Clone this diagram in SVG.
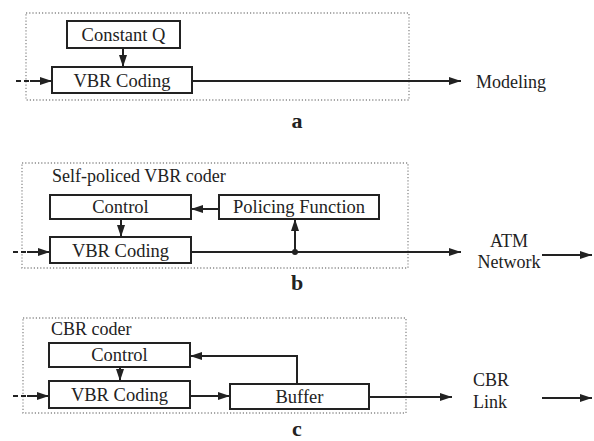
<svg xmlns="http://www.w3.org/2000/svg" width="594" height="441" viewBox="0 0 594 441">
<style>
.box{fill:#fff;stroke:#222;stroke-width:2}
.grp{fill:none;stroke:#8a8a8a;stroke-width:1.3;stroke-dasharray:1.2 2}
.ln{fill:none;stroke:#222;stroke-width:2}
.dash{fill:none;stroke:#222;stroke-width:2;stroke-dasharray:5 3}
text{font-family:"Liberation Serif","Times New Roman",serif;fill:#222}
.t{font-size:18.5px;text-anchor:middle}
.o{font-size:18px}
.lab{font-size:22px;font-weight:bold;text-anchor:middle}
</style>
<defs>
<marker id="ah" viewBox="0 0 12 8" refX="12" refY="4" markerWidth="12" markerHeight="8" markerUnits="userSpaceOnUse" orient="auto">
<path d="M0,0 L12,4 L0,8 Z" fill="#222"/>
</marker>
</defs>
<rect class="grp" x="26" y="13" width="383" height="87"/>
<rect class="grp" x="22" y="163" width="386" height="105"/>
<rect class="grp" x="23" y="318" width="383" height="95"/>
<g id="connectors">
<line class="dash" x1="16" y1="81" x2="30" y2="81"/>
<line class="ln" x1="30" y1="81" x2="52" y2="81" marker-end="url(#ah)"/>
<line class="ln" x1="123" y1="48" x2="123" y2="67" marker-end="url(#ah)"/>
<line class="ln" x1="192" y1="81" x2="461" y2="81" marker-end="url(#ah)"/>
<line class="dash" x1="13" y1="252" x2="27" y2="252"/>
<line class="ln" x1="27" y1="252" x2="50" y2="252" marker-end="url(#ah)"/>
<line class="ln" x1="121" y1="219" x2="121" y2="237" marker-end="url(#ah)"/>
<line class="ln" x1="219" y1="209" x2="191" y2="209" marker-end="url(#ah)"/>
<line class="ln" x1="191" y1="252" x2="461" y2="252" marker-end="url(#ah)"/>
<line class="ln" x1="295" y1="252" x2="295" y2="219" marker-end="url(#ah)"/>
<circle cx="295" cy="252" r="3" fill="#222"/>
<line class="ln" x1="542" y1="255" x2="592" y2="255" marker-end="url(#ah)"/>
<line class="dash" x1="13" y1="396" x2="27" y2="396"/>
<line class="ln" x1="27" y1="396" x2="49" y2="396" marker-end="url(#ah)"/>
<line class="ln" x1="120" y1="367" x2="120" y2="381" marker-end="url(#ah)"/>
<line class="ln" x1="190" y1="396" x2="230" y2="396" marker-end="url(#ah)"/>
<polyline class="ln" points="297,384 297,356 190,356" marker-end="url(#ah)"/>
<line class="ln" x1="369" y1="397" x2="452" y2="397" marker-end="url(#ah)"/>
<line class="ln" x1="542" y1="398" x2="592" y2="398" marker-end="url(#ah)"/>
</g>
<g id="constq"><rect class="box" x="67" y="21" width="113" height="27"/><text class="t" x="123.5" y="41">Constant Q</text></g>
<g id="vbr-a"><rect class="box" x="52" y="67" width="140" height="26"/><text class="t" x="122" y="87">VBR Coding</text></g>
<g id="modeling"><text class="o" x="476" y="88">Modeling</text></g>
<g id="label-a"><text class="lab" x="297" y="128">a</text></g>
<g id="title-b"><text class="o" x="52" y="182">Self-policed VBR coder</text></g>
<g id="control-b"><rect class="box" x="50" y="195" width="141" height="24"/><text class="t" x="120.5" y="213">Control</text></g>
<g id="policing"><rect class="box" x="219" y="195" width="160" height="24"/><text class="t" x="299" y="213">Policing Function</text></g>
<g id="vbr-b"><rect class="box" x="50" y="237" width="141" height="26"/><text class="t" x="120.5" y="257">VBR Coding</text></g>
<g id="atm"><text class="o" x="509" y="247" text-anchor="middle">ATM</text><text class="o" x="509" y="268" text-anchor="middle">Network</text></g>
<g id="label-b"><text class="lab" x="297" y="290">b</text></g>
<g id="title-c"><text class="o" x="51" y="335">CBR coder</text></g>
<g id="control-c"><rect class="box" x="49" y="343" width="141" height="24"/><text class="t" x="119.5" y="361">Control</text></g>
<g id="vbr-c"><rect class="box" x="49" y="381" width="141" height="27"/><text class="t" x="119.5" y="401">VBR Coding</text></g>
<g id="buffer"><rect class="box" x="230" y="384" width="139" height="25"/><text class="t" x="299.5" y="403">Buffer</text></g>
<g id="cbr"><text class="o" x="473" y="386">CBR</text><text class="o" x="473" y="408">Link</text></g>
<g id="label-c"><text class="lab" x="297" y="436">c</text></g>
</svg>
